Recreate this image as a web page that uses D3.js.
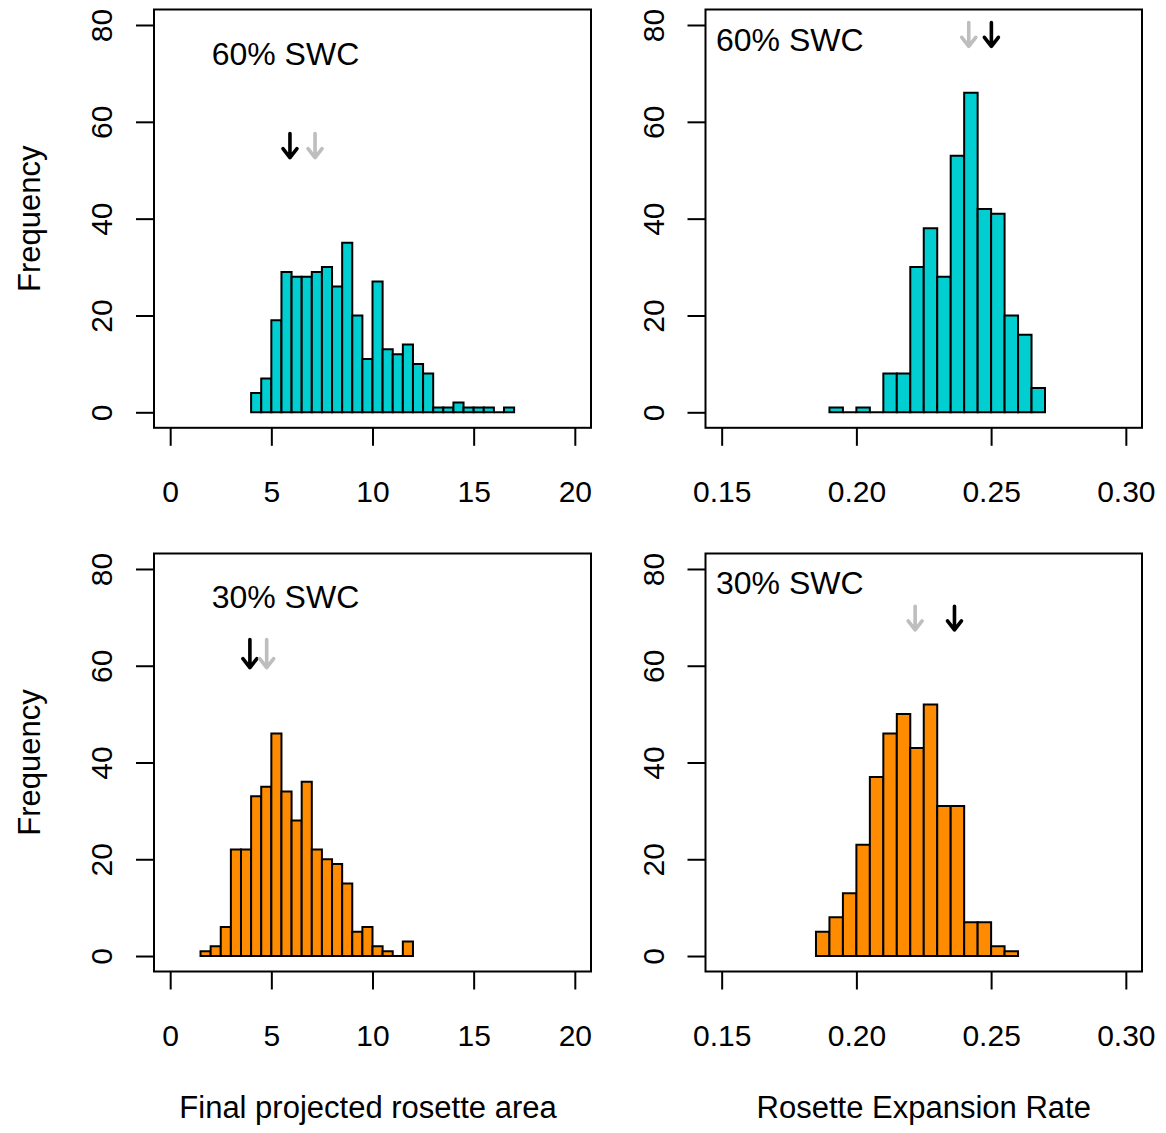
<!DOCTYPE html>
<html>
<head>
<meta charset="utf-8">
<script src="https://cdn.jsdelivr.net/npm/d3@7"></script>
<style>
  body { margin: 0; background: #fff; }
  text { font-family: "Liberation Sans", Arial, sans-serif; fill: #000; }
</style>
</head>
<body>
<script>
// histogram counts (bin starts + widths)
var areaBinWidth = 0.5
var rateBinWidth = 0.005

var area60Start = 4
var area60Counts = [4,7,19,29,28,28,29,30,26,35,20,11,27,13,12,14,10,8,1,1,2,1,1,1,0,1]
var area30Start = 1.5
var area30Counts = [1,2,6,22,22,33,35,46,34,28,36,22,20,19,15,5,6,2,1,0,3]

var rate60Start = 0.19
var rate60Counts = [1,0,1,0,8,8,30,38,28,53,66,42,41,20,16,5]
var rate30Start = 0.185
var rate30Counts = [5,8,13,23,37,46,50,43,52,31,31,7,7,2,1]

// group means shown by the arrows: [black, gray]
var area60Means = [5.92, 7.16]
var area30Means = [3.94, 4.77]
var rate60Means = [0.2501, 0.2417]
var rate30Means = [0.2364, 0.2218]

var areaTicks = [0, 5, 10, 15, 20]
var rateTicks = [0.15, 0.20, 0.25, 0.30]
var freqTicks = [0, 20, 40, 60, 80]

var width = 1166, height = 1133
var cols = [[154, 591], [705.5, 1142]]
var rows = [[9.5, 427.8], [553.5, 971.5]]

var panels = [
  {row:0, col:0, counts:area60Counts, start:area60Start, bw:areaBinWidth, fill:"#00CED1",
   dom:[0,20], ticks:areaTicks, fmt:d3.format("d"), label:"60% SWC", labelAt:[2.05,71.8],
   means:area60Means, arrowY:[57.6,52.6]},
  {row:0, col:1, counts:rate60Counts, start:rate60Start, bw:rateBinWidth, fill:"#00CED1",
   dom:[0.15,0.30], ticks:rateTicks, fmt:d3.format(".2f"), label:"60% SWC", labelAt:[0.1479,74.7],
   means:rate60Means, arrowY:[80.5,75.6]},
  {row:1, col:0, counts:area30Counts, start:area30Start, bw:areaBinWidth, fill:"#FF8C00",
   dom:[0,20], ticks:areaTicks, fmt:d3.format("d"), label:"30% SWC", labelAt:[2.05,72.0],
   means:area30Means, arrowY:[65.4,59.6]},
  {row:1, col:1, counts:rate30Counts, start:rate30Start, bw:rateBinWidth, fill:"#FF8C00",
   dom:[0.15,0.30], ticks:rateTicks, fmt:d3.format(".2f"), label:"30% SWC", labelAt:[0.1479,74.9],
   means:rate30Means, arrowY:[72.3,67.4]}
]

var svg = d3.select("body").append("svg")
    .attr("width", width)
    .attr("height", height)

function pad(dom) {
  // R style 4% extension of the axis range
  var e = (dom[1] - dom[0]) * 0.04
  return [dom[0] - e, dom[1] + e]
}

function drawPanel(p) {
  var x = d3.scaleLinear().domain(pad(p.dom)).range(cols[p.col])
  var y = d3.scaleLinear().domain(pad([0, 80])).range([rows[p.row][1], rows[p.row][0]])
  var g = svg.append("g")

  var bins = p.counts.map((c, i) => ({x0: p.start + i*p.bw, x1: p.start + (i+1)*p.bw, n: c}))

  // bars as paths so empty bins still leave a line on the baseline
  g.append("g").selectAll("path")
    .data(bins)
    .enter().append("path")
      .attr("d", d => `M${x(d.x0)},${y(0)}V${y(d.n)}H${x(d.x1)}V${y(0)}Z`)
      .attr("fill", p.fill)
      .attr("stroke", "#000")
      .attr("stroke-width", 2)
      .attr("stroke-linejoin", "miter")

  // frame
  g.append("rect")
    .attr("x", cols[p.col][0]).attr("y", rows[p.row][0])
    .attr("width", cols[p.col][1] - cols[p.col][0])
    .attr("height", rows[p.row][1] - rows[p.row][0])
    .attr("fill", "none").attr("stroke", "#000").attr("stroke-width", 2)

  // x axis
  var xa = g.append("g")
      .attr("transform", `translate(0,${rows[p.row][1]})`)
      .call(d3.axisBottom(x).tickValues(p.ticks).tickFormat(p.fmt).tickSize(18).tickPadding(35))
  xa.select(".domain").remove()
  xa.selectAll("line").attr("stroke-width", 2)
  xa.selectAll("text").attr("font-size", 30).attr("font-family", null)

  // y axis, labels turned parallel to the axis
  var ya = g.append("g")
      .attr("transform", `translate(${cols[p.col][0]},0)`)
      .call(d3.axisLeft(y).tickValues(freqTicks).tickSize(18))
  ya.select(".domain").remove()
  ya.selectAll("line").attr("stroke-width", 2)
  ya.selectAll("text")
      .attr("x", null).attr("dy", null)
      .attr("font-size", 30).attr("font-family", null)
      .attr("text-anchor", "middle")
      .attr("transform", "translate(-42,0) rotate(-90)")

  g.append("text")
    .attr("x", x(p.labelAt[0])).attr("y", y(p.labelAt[1]))
    .attr("font-size", 32)
    .text(p.label)

  // mean arrows
  var arrowColors = ["#000", "#BEBEBE"]
  p.means.forEach((m, i) => {
    var ax = x(m), y1 = y(p.arrowY[0]), y2 = y(p.arrowY[1])
    g.append("path")
      .attr("d", `M${ax},${y1}V${y2}M${ax-7},${y2-9}L${ax},${y2}L${ax+7},${y2-9}`)
      .attr("fill", "none")
      .attr("stroke", arrowColors[i])
      .attr("stroke-width", 3.6)
      .attr("stroke-linecap", "round")
      .attr("stroke-linejoin", "round")
  })

  // y title on the left column only
  if (p.col == 0) {
    var cy = (rows[p.row][0] + rows[p.row][1]) / 2
    svg.append("text")
      .attr("transform", `translate(40,${cy}) rotate(-90)`)
      .attr("text-anchor", "middle")
      .attr("font-size", 31)
      .text("Frequency")
  }
}

panels.forEach(drawPanel)

svg.append("text")
  .attr("x", 368).attr("y", 1118)
  .attr("text-anchor", "middle").attr("font-size", 31)
  .text("Final projected rosette area")

svg.append("text")
  .attr("x", (cols[1][0] + cols[1][1]) / 2).attr("y", 1118)
  .attr("text-anchor", "middle").attr("font-size", 31)
  .text("Rosette Expansion Rate")
</script>
</body>
</html>
